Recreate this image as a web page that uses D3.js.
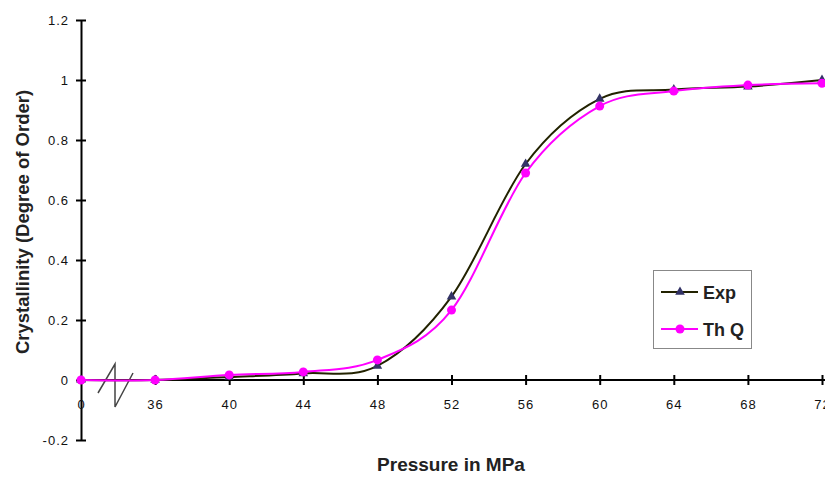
<!DOCTYPE html>
<html><head><meta charset="utf-8">
<script src="https://cdn.jsdelivr.net/npm/d3@7"></script>
<style>body{margin:0;background:#fff}svg{display:block;font-family:Arial,"Liberation Sans",sans-serif}</style>
</head><body><svg id="c" width="825" height="477"></svg>
<script>
const categories = ["0","36","40","44","48","52","56","60","64","68","72"];
const expValues = [0, 0, 0.01, 0.022, 0.047, 0.278, 0.72, 0.937, 0.968, 0.978, 1.0];
const thqValues = [0, 0, 0.017, 0.027, 0.067, 0.233, 0.69, 0.913, 0.963, 0.983, 0.989];
const yTicks = [-0.2, 0, 0.2, 0.4, 0.6, 0.8, 1, 1.2];
const yTickLabels = ["-0.2","0","0.2","0.4","0.6","0.8","1","1.2"];

const svg = d3.select("#c");
const x = d3.scalePoint().domain(categories).range([81, 822]);
const y = d3.scaleLinear().domain([-0.2, 1.2]).range([440, 20]);
const FONT = "Arial, 'Liberation Sans', sans-serif";

// Y axis
const ya = svg.append("g").attr("transform","translate(81,0)")
  .call(d3.axisLeft(y).tickValues(yTicks).tickSize(0).tickPadding(12).tickFormat((d,i)=>yTickLabels[i]));
ya.select(".domain").attr("stroke","#000").attr("stroke-width",2);
ya.selectAll(".tick text").attr("font-size",13).attr("letter-spacing","1px").attr("fill","#111").attr("font-family",FONT);
ya.selectAll(".tick").append("line").attr("x1",-5).attr("x2",5).attr("stroke","#000").attr("stroke-width",2);

// X axis
const xa = svg.append("g").attr("transform",`translate(0,${y(0)})`)
  .call(d3.axisBottom(x).tickSize(0).tickPadding(20));
xa.select(".domain").attr("d",`M81,0H825`).attr("stroke","#000").attr("stroke-width",2);
xa.selectAll(".tick text").attr("font-size",13).attr("letter-spacing","1px").attr("fill","#111").attr("font-family",FONT);
xa.selectAll(".tick").filter(d=>d!=="0").append("line").attr("y1",-5).attr("y2",5).attr("stroke","#000").attr("stroke-width",2);

// Axis break zigzag
svg.append("path").attr("d","M98,393L115,364L115,407L133,373").attr("fill","none").attr("stroke","#444").attr("stroke-width",1.5);

// Titles
svg.append("text").attr("x",451).attr("y",471).attr("text-anchor","middle")
  .attr("font-size",19).attr("font-weight","bold").attr("fill","#222").text("Pressure in MPa");
svg.append("text").attr("transform","translate(29,222) rotate(-90)").attr("text-anchor","middle")
  .attr("font-size",18.5).attr("font-weight","bold").attr("fill","#222").text("Crystallinity (Degree of Order)");

const line = d3.line().x((d,i)=>x(categories[i])).y(d=>y(d)).curve(d3.curveCardinal.tension(0));
const tri = d3.symbol().type(d3.symbolTriangle).size(40);

// Exp
svg.append("path").datum(expValues).attr("d",line).attr("fill","none").attr("stroke","#222200").attr("stroke-width",2);
svg.append("g").selectAll("path").data(expValues).join("path")
  .attr("d",tri).attr("transform",(d,i)=>`translate(${x(categories[i])},${y(d)})`).attr("fill","#333366");

// Th Q
svg.append("path").datum(thqValues).attr("d",line).attr("fill","none").attr("stroke","#ff00ff").attr("stroke-width",2);
svg.append("g").selectAll("circle").data(thqValues).join("circle")
  .attr("cx",(d,i)=>x(categories[i])).attr("cy",d=>y(d)).attr("r",4.5).attr("fill","#ff00ff");

// Legend
const lg = svg.append("g");
lg.append("rect").attr("x",653.5).attr("y",270.5).attr("width",98).attr("height",78).attr("fill","#fff").attr("stroke","#888").attr("stroke-width",1);
const items = [{name:"Exp", color:"#222200", mark:"tri", mc:"#333366", yy:292},{name:"Th Q", color:"#ff00ff", mark:"circ", mc:"#ff00ff", yy:329}];
items.forEach(it=>{
  lg.append("line").attr("x1",661).attr("x2",698).attr("y1",it.yy).attr("y2",it.yy).attr("stroke",it.color).attr("stroke-width",2);
  if(it.mark==="tri") lg.append("path").attr("d",tri).attr("transform",`translate(680,${it.yy})`).attr("fill",it.mc);
  else lg.append("circle").attr("cx",680).attr("cy",it.yy).attr("r",4.5).attr("fill",it.mc);
  lg.append("text").attr("x",703).attr("y",it.yy+6.5).attr("font-size",18).attr("font-weight","bold").attr("fill","#222").text(it.name);
});
</script></body></html>
